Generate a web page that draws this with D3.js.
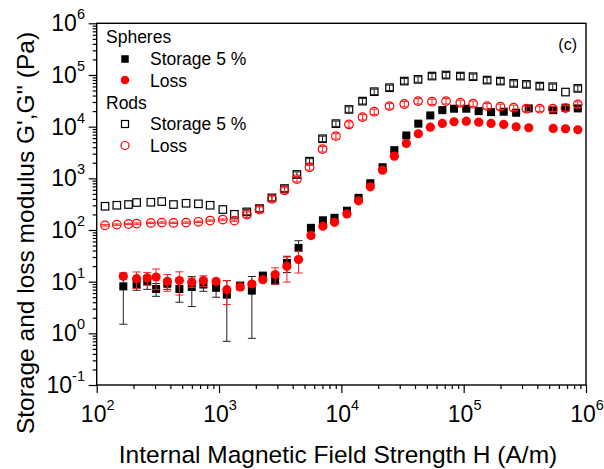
<!DOCTYPE html>
<html>
  <head>
    <meta charset="utf-8">
    <script src="https://cdn.jsdelivr.net/npm/d3@7"></script>
    <style>
      body { margin: 0; background: #fff; }
      svg text { font-family: "Liberation Sans", Arial, sans-serif; fill: #000; }
    </style>
  </head>
  <body>
    <script>
      // field strength H (A/m) for the spheres
      var sphH = [165, 212, 259, 306, 378, 474, 599, 745, 946, 1158,
                  1489, 1855, 2282, 2876, 3589, 4467, 5641, 7068, 8790, 11110,
                  13830, 17250, 21740, 27100, 33970, 42580, 53350, 66920, 83400, 105100,
                  132700, 167500, 212400, 268500, 340500, 539500, 679500, 857000];
      var sphStorage = [8.1, 8.8, 10.1, 7.2, 9.1, 7.2, 7.9, 8.8, 7.6, 5.6,
                        8.4, 6.7, 13.1, 10.4, 23, 45, 110, 154, 172, 236,
                        419, 804, 1640, 3510, 6750, 11430, 16480, 20870, 22230, 22230,
                        19950, 19090, 19450, 18590, 22540, 20870, 23250, 22540];
      var sphStorageErr = [6.6, 2, 3, 2, 2, 3.2, 4.6, 2.3, 2.6, 4.9,
                           1, 5.9, 1.5, 1, 8, 17, 10, 15, 15, 20,
                           30, 50, 100, 200, 300, 500, 600, 800, 800, 800,
                           700, 700, 700, 700, 800, 700, 800, 800];
      var sphLoss = [12.7, 11.4, 11.8, 12.3, 10.1, 10.5, 9.7, 10.5, 10.1, 7.0,
                     7.9, 9.0, 10.9, 13.7, 19.8, 26.7, 78, 118, 141, 205,
                     366, 684, 1436, 2680, 4720, 7280, 9770, 11530, 12440, 12780,
                     12230, 11530, 11040, 9950, 9520, 9230, 9100, 8700];
      var sphLossErr = [1.5, 4, 3.3, 5.3, 3.6, 5, 2, 2.5, 1, 3.4,
                        1, 1, 1, 4.8, 10, 12, 8, 10, 12, 15,
                        25, 40, 80, 150, 250, 400, 500, 600, 600, 600,
                        600, 600, 500, 500, 500, 500, 500, 500];

      // field strength H (A/m) for the rods
      var rodH = [117, 146, 182, 212, 277, 340, 424, 538, 678, 846,
                  1074, 1336, 1687, 2142, 2706, 3428, 4332, 5495, 7018, 9030,
                  11540, 14900, 18570, 24770, 32700, 42370, 55100, 71740, 93970, 119400,
                  155400, 199500, 256400, 325800, 418800, 534600, 679200, 857000];
      var rodStorage = [288, 301, 311, 340, 344, 355, 311, 329, 321, 301,
                        249, 201, 224, 260, 419, 634, 1186, 2144, 5830, 11430,
                        21530, 31200, 47450, 56700, 76200, 82200, 95300, 99600, 95300, 92700,
                        79600, 76200, 68700, 65700, 60900, 59300, 46700, 55000];
      // error in percent of the value
      var rodStorageErrPct = [0, 0, 0, 0, 0, 0, 0, 0, 0, 0,
                              0, 0, 12, 12, 12, 12, 12, 12, 12, 12,
                              12, 12, 12, 12, 12, 12, 12, 12, 12, 12,
                              12, 12, 12, 12, 12, 12, 0, 12];
      var rodLoss = [123, 127, 131, 133, 137, 139, 137, 139, 144, 152,
                     159, 152, 199, 249, 401, 585, 968, 1640, 3680, 6550,
                     11040, 15290, 19450, 24970, 27400, 31200, 30400, 31200, 29000, 27800,
                     24970, 24300, 23250, 22230, 22230, 22230, 22850, 26900];
      var rodLossErrPct = [3, 3, 3, 3, 3, 3, 3, 3, 3, 3,
                           3, 3, 12, 12, 12, 12, 12, 12, 12, 12,
                           12, 12, 12, 12, 12, 12, 12, 12, 12, 12,
                           12, 12, 12, 12, 12, 12, 12, 12];

      var xTicks = [2, 3, 4, 5, 6];
      var yTicks = [-1, 0, 1, 2, 3, 4, 5, 6];

      var width = 604, height = 469;
      var plot = {left: 96.7, right: 586, top: 23.3, bottom: 385};

      var svg = d3.select("body").append("svg")
        .attr("width", width).attr("height", height);

      var x = d3.scaleLog().domain([1e2, 1e6]).range([plot.left, plot.right]);
      var y = d3.scaleLog().domain([1e-1, 1e6]).range([plot.bottom, plot.top]);

      // minor ticks 2..9 of every decade
      function minors(lo, hi) {
        var out = [];
        for (var e = lo; e < hi; e++) {
          for (var m = 2; m < 10; m++) out.push(m * Math.pow(10, e));
        }
        return out;
      }

      var xAxisMinor = d3.axisBottom(x).tickValues(minors(2, 6)).tickSize(4).tickFormat("");
      var xAxisMajor = d3.axisBottom(x).tickValues(xTicks.map(function(e){ return Math.pow(10, e); }))
        .tickSize(8).tickFormat("");
      var yAxisMinor = d3.axisLeft(y).tickValues(minors(-1, 6)).tickSize(4).tickFormat("");
      var yAxisMajor = d3.axisLeft(y).tickValues(yTicks.map(function(e){ return Math.pow(10, e); }))
        .tickSize(8).tickFormat("");

      [xAxisMinor, xAxisMajor].forEach(function(ax){
        svg.append("g").attr("transform", "translate(0," + plot.bottom + ")").call(ax)
          .call(function(g){ g.select(".domain").remove(); })
          .selectAll("line").attr("stroke", "#000").attr("stroke-width", 1.2);
      });
      [yAxisMinor, yAxisMajor].forEach(function(ax){
        svg.append("g").attr("transform", "translate(" + plot.left + ",0)").call(ax)
          .call(function(g){ g.select(".domain").remove(); })
          .selectAll("line").attr("stroke", "#000").attr("stroke-width", 1.2);
      });

      // power-of-ten labels
      xTicks.forEach(function(e){
        var t = svg.append("text").attr("x", x(Math.pow(10, e)) + 1).attr("y", 422)
          .attr("text-anchor", "middle").style("font-size", "23px");
        t.append("tspan").text("10");
        t.append("tspan").attr("dy", -12).style("font-size", "14.5px").text(e);
      });
      yTicks.forEach(function(e){
        var t = svg.append("text").attr("x", 85).attr("y", y(Math.pow(10, e)) + 8)
          .attr("text-anchor", "end").style("font-size", "23px");
        t.append("tspan").text("10");
        t.append("tspan").attr("dy", -12).style("font-size", "14.5px").text(e);
      });

      // frame
      svg.append("rect").attr("x", plot.left).attr("y", plot.top)
        .attr("width", plot.right - plot.left).attr("height", plot.bottom - plot.top)
        .attr("fill", "none").attr("stroke", "#000").attr("stroke-width", 1.4);

      // axis titles
      svg.append("text").attr("x", 338).attr("y", 463).attr("text-anchor", "middle")
        .style("font-size", "24.5px").text("Internal Magnetic Field Strength H (A/m)");
      svg.append("text").attr("transform", "translate(34,233) rotate(-90)")
        .attr("text-anchor", "middle").style("font-size", "24.5px")
        .text("Storage and loss modulus G',G'' (Pa)");
      svg.append("text").attr("x", 577).attr("y", 50).attr("text-anchor", "end")
        .style("font-size", "16px").text("(c)");

      var plotArea = svg.append("g");

      // vertical error bars with caps
      function errorBars(hs, vals, errs, color) {
        var g = plotArea.append("g").attr("stroke", color).attr("stroke-width", 1);
        hs.forEach(function(h, i){
          if (!errs[i]) return;
          var lo = vals[i] - errs[i];
          var yLo = lo > 0 ? y(lo) : plot.bottom;
          var yHi = y(vals[i] + errs[i]);
          var cx = x(h);
          g.append("line").attr("x1", cx).attr("x2", cx).attr("y1", yLo).attr("y2", yHi);
          g.append("line").attr("x1", cx - 4).attr("x2", cx + 4).attr("y1", yLo).attr("y2", yLo);
          g.append("line").attr("x1", cx - 4).attr("x2", cx + 4).attr("y1", yHi).attr("y2", yHi);
        });
      }

      function pctErr(vals, pct) {
        return vals.map(function(v, i){ return v * pct[i] / 100; });
      }

      function drawSquares(g, pts, filled, color, s) {
        g.selectAll(null).data(pts).enter().append("rect")
          .attr("x", function(d){ return d[0] - s / 2; })
          .attr("y", function(d){ return d[1] - s / 2; })
          .attr("width", s).attr("height", s)
          .attr("fill", filled ? color : "none")
          .attr("stroke", color).attr("stroke-width", filled ? 0 : 1.2);
      }
      function drawCircles(g, pts, filled, color, r) {
        g.selectAll(null).data(pts).enter().append("circle")
          .attr("cx", function(d){ return d[0]; })
          .attr("cy", function(d){ return d[1]; })
          .attr("r", r)
          .attr("fill", filled ? color : "none")
          .attr("stroke", color).attr("stroke-width", filled ? 0 : 1.2);
      }
      function toPts(hs, vals) {
        return hs.map(function(h, i){ return [x(h), y(vals[i])]; });
      }

      // spheres
      errorBars(sphH, sphStorage, sphStorageErr, "#222");
      drawSquares(plotArea.append("g"), toPts(sphH, sphStorage), true, "#000", 8);
      errorBars(sphH, sphLoss, sphLossErr, "#ff2020");
      drawCircles(plotArea.append("g"), toPts(sphH, sphLoss), true, "#ff0000", 4.6);

      // rods
      drawSquares(plotArea.append("g"), toPts(rodH, rodStorage), false, "#000", 7.5);
      errorBars(rodH, rodStorage, pctErr(rodStorage, rodStorageErrPct), "#222");
      drawCircles(plotArea.append("g"), toPts(rodH, rodLoss), false, "#ff0000", 4.3);
      errorBars(rodH, rodLoss, pctErr(rodLoss, rodLossErrPct), "#ff2020");

      // legend
      var legend = svg.append("g");
      var lx = 125, tx = 150;
      legend.append("text").attr("x", 106).attr("y", 43).style("font-size", "17.5px").text("Spheres");
      drawSquares(legend, [[lx, 59]], true, "#000", 7.5);
      legend.append("text").attr("x", tx).attr("y", 65).style("font-size", "17.5px").text("Storage 5 %");
      drawCircles(legend, [[lx, 80]], true, "#ff0000", 4.3);
      legend.append("text").attr("x", tx).attr("y", 86.5).style("font-size", "17.5px").text("Loss");
      legend.append("text").attr("x", 106).attr("y", 108.5).style("font-size", "17.5px").text("Rods");
      drawSquares(legend, [[lx, 124]], false, "#000", 7);
      legend.append("text").attr("x", tx).attr("y", 130).style("font-size", "17.5px").text("Storage 5 %");
      drawCircles(legend, [[lx, 145.5]], false, "#ff0000", 4);
      legend.append("text").attr("x", tx).attr("y", 151.5).style("font-size", "17.5px").text("Loss");
    </script>
  </body>
</html>
